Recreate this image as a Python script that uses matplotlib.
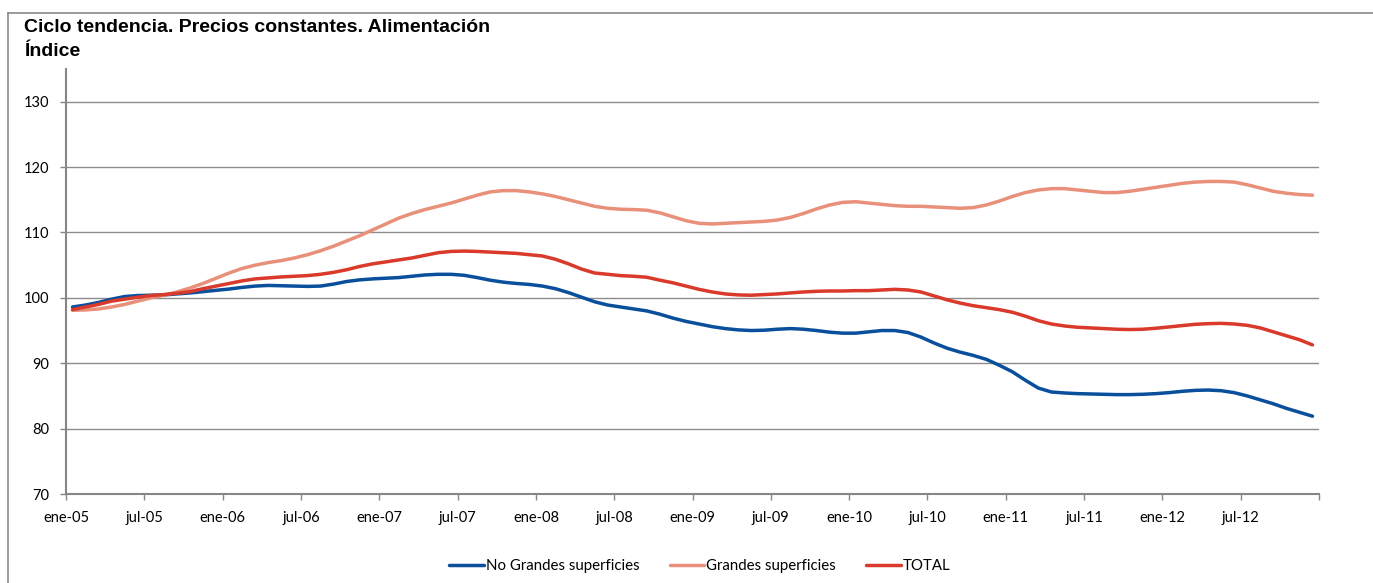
import matplotlib
matplotlib.use("Agg")
import matplotlib.pyplot as plt
import numpy as np

# monthly values ene-05 .. dic-12 (96 points)
no_grandes = [98.6, 98.9, 99.3, 99.8, 100.2, 100.35, 100.4, 100.45, 100.6, 100.75, 100.95, 101.15,
              101.35, 101.6, 101.8, 101.9, 101.85, 101.8, 101.75, 101.8, 102.1, 102.5, 102.75, 102.9,
              103.0, 103.1, 103.3, 103.5, 103.6, 103.6, 103.45, 103.1, 102.7, 102.4, 102.2, 102.05,
              101.8, 101.4, 100.8, 100.1, 99.4, 98.9, 98.6, 98.3, 98.0, 97.5, 96.9, 96.4,
              96.0, 95.6, 95.3, 95.1, 95.0, 95.05, 95.2, 95.3, 95.2, 95.0, 94.75, 94.6,
              94.6, 94.8, 95.0, 95.0, 94.7, 94.0, 93.1, 92.3, 91.7, 91.2, 90.6, 89.7,
              88.7, 87.4, 86.2, 85.6, 85.45, 85.35, 85.3, 85.25, 85.2, 85.2, 85.25, 85.35,
              85.5, 85.7, 85.85, 85.9, 85.8, 85.5, 85.0, 84.4, 83.8, 83.1, 82.5, 81.9]

grandes = [98.1, 98.15, 98.3, 98.6, 99.0, 99.5, 100.0, 100.4, 100.9, 101.5, 102.2, 103.0,
           103.8, 104.5, 105.0, 105.4, 105.7, 106.1, 106.6, 107.2, 107.9, 108.7, 109.5, 110.4,
           111.3, 112.2, 112.9, 113.5, 114.0, 114.5, 115.1, 115.7, 116.2, 116.4, 116.4, 116.2,
           115.9, 115.5, 115.0, 114.5, 114.0, 113.7, 113.55, 113.5, 113.4, 113.0, 112.4, 111.8,
           111.4, 111.3, 111.4, 111.5, 111.6, 111.7, 111.9, 112.3, 112.9, 113.6, 114.2, 114.6,
           114.7, 114.5, 114.3, 114.1, 114.0, 114.0, 113.9, 113.8, 113.7, 113.8, 114.2, 114.8,
           115.5, 116.1, 116.5, 116.7, 116.7, 116.5, 116.3, 116.1, 116.1, 116.3, 116.6, 116.9,
           117.2, 117.5, 117.7, 117.8, 117.8, 117.7, 117.3, 116.8, 116.3, 116.0, 115.8, 115.7]

total = [98.2, 98.6, 99.0, 99.5, 99.8, 100.1, 100.35, 100.5, 100.7, 100.95, 101.4, 101.8,
         102.2, 102.6, 102.9, 103.05, 103.2, 103.3, 103.4, 103.6, 103.9, 104.3, 104.8, 105.2,
         105.5, 105.8, 106.1, 106.5, 106.9, 107.1, 107.15, 107.1, 107.0, 106.9, 106.8, 106.6,
         106.4, 105.9, 105.2, 104.4, 103.8, 103.6, 103.4, 103.3, 103.15, 102.7, 102.3, 101.8,
         101.3, 100.9, 100.6, 100.45, 100.4, 100.5, 100.6, 100.75, 100.9, 101.0, 101.05, 101.05,
         101.1, 101.1, 101.2, 101.3, 101.2, 100.9, 100.3, 99.7, 99.2, 98.8, 98.5, 98.2,
         97.8, 97.2, 96.5, 96.0, 95.7, 95.5, 95.4, 95.3, 95.2, 95.15, 95.2, 95.35,
         95.55, 95.75, 95.95, 96.05, 96.1, 96.0, 95.8, 95.4, 94.8, 94.2, 93.6, 92.8]

tick_labels = ["ene-05", "jul-05", "ene-06", "jul-06", "ene-07", "jul-07", "ene-08", "jul-08",
               "ene-09", "jul-09", "ene-10", "jul-10", "ene-11", "jul-11", "ene-12", "jul-12"]

x = np.arange(len(total)) + 0.5

fig = plt.figure(figsize=(13.73, 5.83), dpi=100)
ax = fig.add_axes([66/1373, 1-494/583, (1319-66)/1373, (494-69)/583])

ax.plot(x, no_grandes, color="#0a4f9c", lw=2.5, label="No Grandes superficies", solid_capstyle="round")
ax.plot(x, grandes, color="#e8907a", lw=2.5, label="Grandes superficies", solid_capstyle="round")
ax.plot(x, total, color="#d93a2b", lw=2.5, label="TOTAL", solid_capstyle="round")

ax.set_xlim(0, 96)
ax.set_ylim(70, 135)
ax.set_yticks(range(70, 131, 10))
ax.set_xticks(np.arange(0, 97, 6))
ax.set_xticklabels(tick_labels + [""])
ax.grid(axis="y", color="#8c8c8c", lw=1.0)
ax.set_axisbelow(True)

for s in ["top", "right"]:
    ax.spines[s].set_visible(False)
for s in ["left", "bottom"]:
    ax.spines[s].set_color("#868686")
    ax.spines[s].set_linewidth(1.5)
ax.tick_params(color="#868686", length=4, width=1, labelsize=10.5)
ax.tick_params(axis="x", pad=8)
ax.tick_params(axis="y", pad=8)
for lab in ax.get_xticklabels() + ax.get_yticklabels():
    lab.set_family("Lato")

fig.text(24/1373, 1-28/583, "Ciclo tendencia. Precios constantes. Alimentación",
         fontsize=14, fontweight="bold", family="Liberation Sans", va="center")
fig.text(24/1373, 1-51/583, "Índice", fontsize=14, fontweight="bold",
         family="Liberation Sans", va="center")

# outer chart border (partly cropped)
fig.add_artist(plt.Line2D([8/1373, 1], [1-13/583, 1-13/583], transform=fig.transFigure,
                          color="#8a8a8a", lw=1.2))
fig.add_artist(plt.Line2D([8/1373, 8/1373], [0, 1-13/583], transform=fig.transFigure,
                          color="#8a8a8a", lw=1.2))

leg = fig.legend(loc="center", bbox_to_anchor=(700/1373, 1-566/583), ncol=3, frameon=False,
                 handlelength=2.3, handletextpad=0.15, columnspacing=2.0,
                 prop={"family": "Lato", "size": 10.8})

fig.savefig("out.png", dpi=100)
